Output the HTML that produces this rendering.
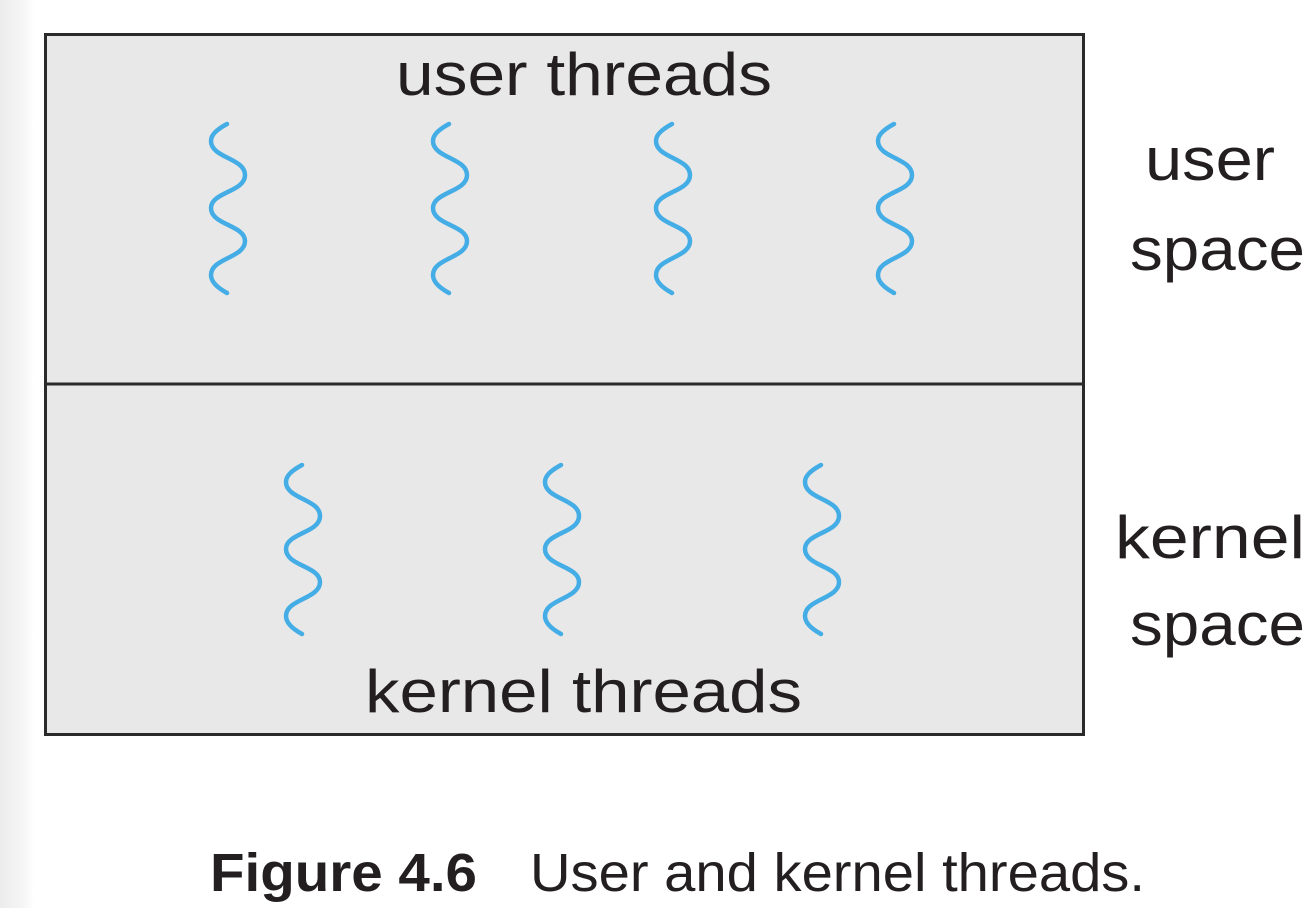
<!DOCTYPE html>
<html><head><meta charset="utf-8"><style>
html,body{margin:0;padding:0;background:#fff;}
svg{display:block;}
</style></head><body>
<svg width="1314" height="908" viewBox="0 0 1314 908" xmlns="http://www.w3.org/2000/svg">
<defs>
<linearGradient id="lg" x1="0" x2="1" y1="0" y2="0">
<stop offset="0" stop-color="#ececec"/><stop offset="0.7" stop-color="#f6f6f6"/><stop offset="1" stop-color="#ffffff"/>
</linearGradient>
<path id="sq" d="M16,0 C5,6 0,11 0,17 C0,34 34,34 34,51 C34,68 0,68 0,84 C0,101 34,101 34,117 C34,134 0,134 0,151 C0,157 5,163 16,169" fill="none" stroke="#45ade6" stroke-width="4.5" stroke-linecap="round"/>
</defs>
<rect x="0" y="0" width="34" height="908" fill="url(#lg)"/>
<rect x="45.5" y="34.5" width="1038" height="700" fill="#e8e8e8" stroke="#2a2a2a" stroke-width="3"/>
<line x1="45" y1="384" x2="1084" y2="384" stroke="#2a2a2a" stroke-width="3"/>
<use href="#sq" x="211" y="124"/>
<use href="#sq" x="433" y="124"/>
<use href="#sq" x="656" y="124"/>
<use href="#sq" x="878" y="124"/>
<use href="#sq" x="286" y="465"/>
<use href="#sq" x="545" y="465"/>
<use href="#sq" x="805" y="465"/>
<g font-family="Liberation Sans, sans-serif" fill="#231f20" font-size="60">
<text x="396" y="95" textLength="376" lengthAdjust="spacingAndGlyphs">user threads</text>
<text x="365" y="712" textLength="437" lengthAdjust="spacingAndGlyphs">kernel threads</text>
<text x="1145" y="180" textLength="130" lengthAdjust="spacingAndGlyphs">user</text>
<text x="1130" y="270" textLength="175" lengthAdjust="spacingAndGlyphs">space</text>
<text x="1115" y="558" textLength="190" lengthAdjust="spacingAndGlyphs">kernel</text>
<text x="1130" y="645" textLength="175" lengthAdjust="spacingAndGlyphs">space</text>
</g>
<g font-family="Liberation Sans, sans-serif" fill="#231f20" font-size="54">
<text x="210" y="891" font-weight="bold" textLength="267" lengthAdjust="spacingAndGlyphs">Figure 4.6</text>
<text x="530" y="891" textLength="615" lengthAdjust="spacingAndGlyphs">User and kernel threads.</text>
</g>
</svg>
</body></html>
